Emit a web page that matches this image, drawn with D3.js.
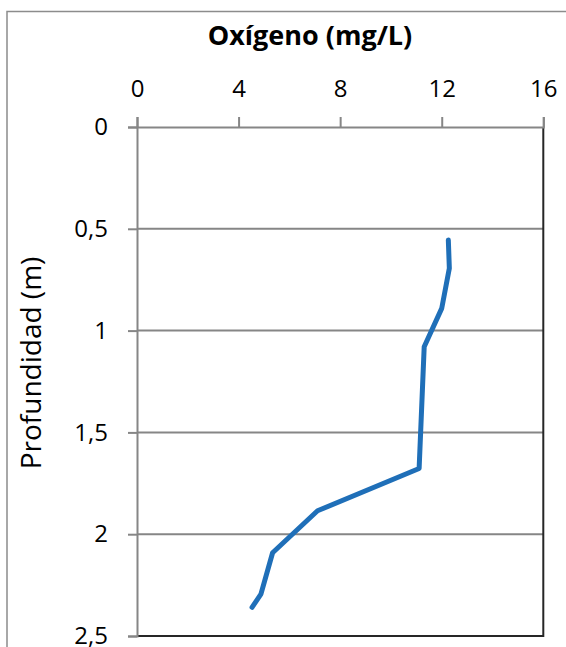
<!DOCTYPE html>
<html><head><meta charset="utf-8">
<script src="https://cdn.jsdelivr.net/npm/d3@7"></script>
<style>body{margin:0;background:#fff}svg{display:block}</style>
</head><body>
<script>
const depth = [0.555, 0.694, 0.891, 1.079, 1.677, 1.885, 2.091, 2.294, 2.359];
const oxygen = [12.26, 12.30, 12.0, 11.31, 11.11, 7.11, 5.34, 4.88, 4.53];
const xTicks = [0, 4, 8, 12, 16];
const yTicks = [0, 0.5, 1, 1.5, 2, 2.5];
const title = "Oxígeno (mg/L)";
const yTitle = "Profundidad (m)";

const W = 566, H = 647;
const m = {left: 137, right: 566 - 543.3, top: 127, bottom: 647 - 636};
const font = "Open Sans, sans-serif";
const svg = d3.select("body").append("svg").attr("width", W).attr("height", H);

// outer chart border
svg.append("path").attr("d", `M7,${H+2}V11.5H${W+2}`).attr("fill","none")
  .attr("stroke","#8c8c8c").attr("stroke-width",1.5);

const x = d3.scaleLinear().domain([0,16]).range([m.left, W - m.right]);
const y = d3.scaleLinear().domain([0,2.5]).range([m.top, H - m.bottom]);

// gridlines
svg.append("g").selectAll("line").data(yTicks.slice(1, -1)).join("line")
  .attr("x1", x(0)).attr("x2", x(16)).attr("y1", d=>y(d)).attr("y2", d=>y(d))
  .attr("stroke","#868686").attr("stroke-width",2);

// plot area border (right & bottom dark)
svg.append("path").attr("d", `M${x(16)},${y(0)}V${y(2.5)}H${x(0)}`).attr("fill","none")
  .attr("stroke","#262626").attr("stroke-width",2);

// axes
const fmt = d => String(d).replace(".", ",");
const xAxis = svg.append("g").attr("transform",`translate(0,${y(0)})`)
  .call(d3.axisTop(x).tickValues(xTicks).tickSize(10).tickPadding(20).tickFormat(fmt));
const yAxis = svg.append("g").attr("transform",`translate(${x(0)},0)`)
  .call(d3.axisLeft(y).tickValues(yTicks).tickSize(9).tickPadding(20).tickFormat(fmt));
[xAxis, yAxis].forEach(a => {
  a.select(".domain").attr("stroke","#868686").attr("stroke-width",2);
  a.selectAll(".tick line").attr("stroke","#868686").attr("stroke-width",2);
  a.selectAll("text").attr("font-family", font).attr("font-size", 24).attr("fill","#000");
});
xAxis.selectAll(".tick text").attr("dy", "0em");

// line
svg.append("path").datum(depth.map((d,i)=>[oxygen[i], d]))
  .attr("d", d3.line().x(d=>x(d[0])).y(d=>y(d[1])))
  .attr("fill","none").attr("stroke","#1f6fb8").attr("stroke-width",5)
  .attr("stroke-linejoin","round").attr("stroke-linecap","round");

// titles
svg.append("text").attr("x", 310).attr("y", 45).attr("text-anchor","middle")
  .attr("font-family", font).attr("font-weight","bold").attr("font-size",27).text(title);
svg.append("text").attr("transform","translate(41,363) rotate(-90)").attr("text-anchor","middle")
  .attr("font-family", font).attr("font-size",28).text(yTitle);
</script>
</body></html>
